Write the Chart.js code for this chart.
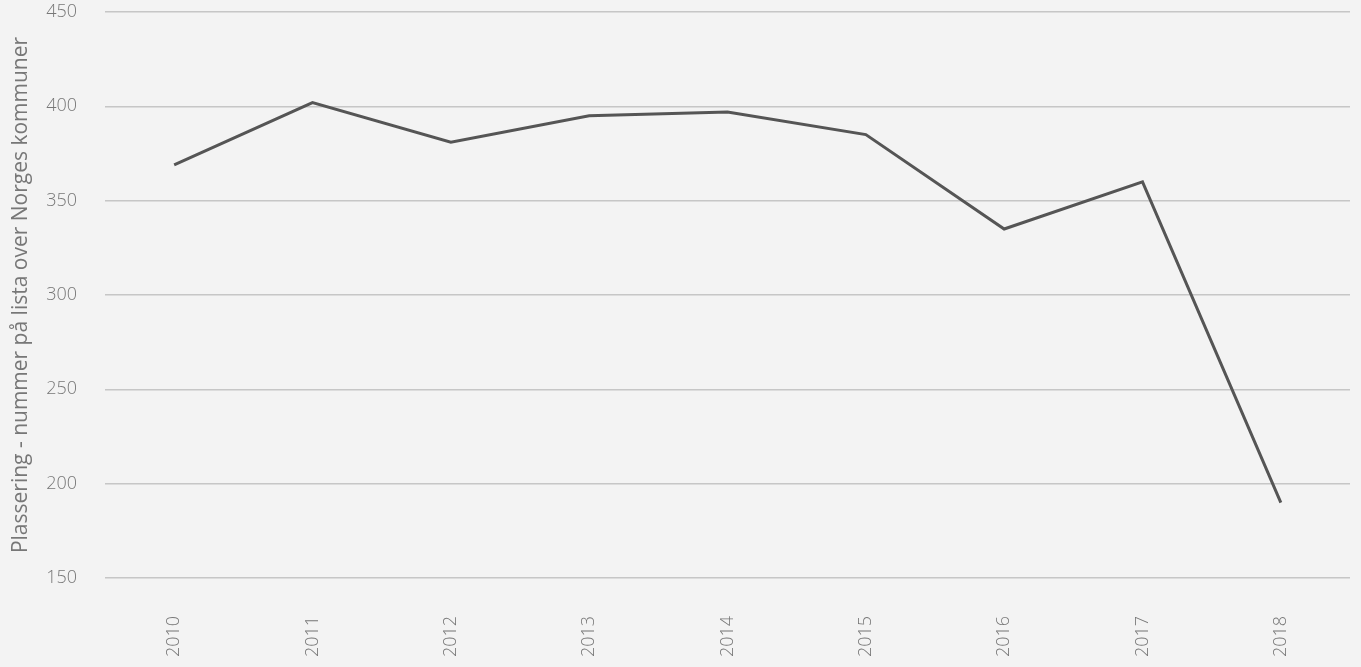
<!DOCTYPE html>
<html>
<head>
<meta charset="utf-8">
<script src="https://cdn.jsdelivr.net/npm/chart.js@4"></script>
<style>
    html, body { margin: 0; padding: 0; background: #f3f3f3; }
    #wrap { width: 1361px; height: 667px; }
</style>
</head>
<body>
<div id="wrap"><canvas id="rank-chart"></canvas></div>
<script>
// Plassering per år
const years = ["2010", "2011", "2012", "2013", "2014", "2015", "2016", "2017", "2018"];
const ranks = [369, 402, 381, 395, 397, 385, 335, 360, 190];
const yTicks = [150, 200, 250, 300, 350, 400, 450];

const ctx = document.getElementById("rank-chart").getContext("2d");

new Chart(ctx, {
    type: "line",
    data: {
        labels: years,
        datasets: [{
            label: "Plassering",
            data: ranks,
            borderColor: "#555555",
            borderWidth: 3,
            pointRadius: 0,
            tension: 0,
            fill: false
        }]
    },
    options: {
        responsive: true,
        maintainAspectRatio: false,
        animation: false,
        layout: { padding: { top: 12, right: 11, bottom: 0, left: 8 } },
        plugins: {
            legend: { display: false },
            tooltip: { enabled: false }
        },
        scales: {
            x: {
                offset: true,
                grid: { display: false },
                border: { display: false },
                ticks: {
                    color: "#777777",
                    font: { family: "Open Sans", size: 18, weight: "300" },
                    minRotation: 90,
                    maxRotation: 90,
                    padding: 30
                },
                afterFit: (scale) => {
                    scale.height = 89;
                    scale.paddingTop = 0;
                    scale.paddingBottom = 0;
                }
            },
            y: {
                min: 150,
                max: 450,
                afterBuildTicks: (scale) => { scale.ticks = yTicks.map(v => ({ value: v })); },
                grid: { color: "#c6c6c6", lineWidth: 1.5, drawTicks: false },
                border: { display: false },
                ticks: {
                    color: "#777777",
                    font: { family: "Open Sans", size: 18, weight: "300" },
                    padding: 28
                },
                title: {
                    display: true,
                    text: "Plassering - nummer på lista over Norges kommuner",
                    color: "#777777",
                    font: { family: "Open Sans", size: 21, weight: "400" },
                    padding: { top: 0, bottom: 5 }
                },
                afterFit: (scale) => {
                    scale.width = 97;
                    scale.paddingTop = 0;
                    scale.paddingBottom = 0;
                }
            }
        }
    }
});
</script>
</body>
</html>
